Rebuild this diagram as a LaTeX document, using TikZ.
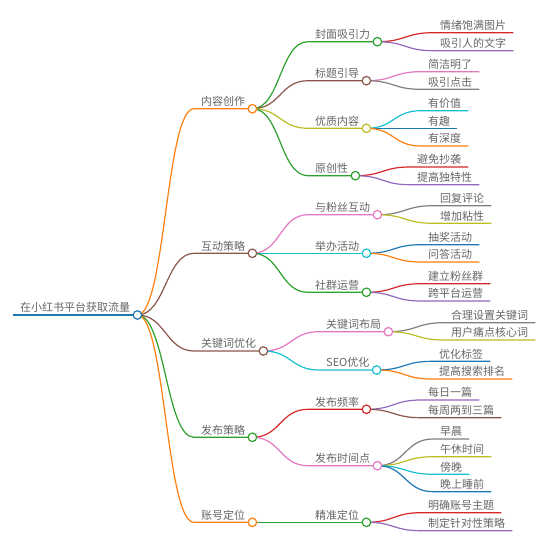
\documentclass[tikz,border=0pt]{standalone}
\usepackage{fontspec}
\newfontfamily\cjk{Noto Sans CJK SC}
\usetikzlibrary{positioning}
\definecolor{cblue}{HTML}{1F77B4}
\definecolor{corange}{HTML}{FF7F0E}
\definecolor{cgreen}{HTML}{2CA02C}
\definecolor{cred}{HTML}{D62728}
\definecolor{cpurple}{HTML}{9467BD}
\definecolor{cbrown}{HTML}{8C564B}
\definecolor{cpink}{HTML}{E377C2}
\definecolor{cgray}{HTML}{7F7F7F}
\definecolor{colive}{HTML}{BCBD22}
\definecolor{ccyan}{HTML}{17BECF}
\definecolor{txt}{HTML}{666666}
\tikzset{
  lbl/.style={anchor=south west, inner xsep=7pt, inner ysep=1.5pt, text height=8.5pt, text depth=1.5pt, font=\cjk\fontsize{11}{13}\selectfont, text=txt},
  dot/.style={circle, draw=#1, fill=white, line width=1.2pt, minimum size=8.5pt, inner sep=0pt},
  br/.style={line width=1.2pt, draw=#1}
}
\begin{document}
\begin{tikzpicture}[x=1pt,y=-1pt]
\useasboundingbox (0,0) rectangle (550,550);
\node[lbl] (root) at (13,315) {在小红书平台获取流量};
\node[lbl] (a) at (194,108.7) {内容创作};
\node[lbl] (b) at (194,253.3) {互动策略};
\node[lbl] (c) at (194,351) {关键词优化};
\node[lbl] (d) at (194,437.3) {发布策略};
\node[lbl] (e) at (194,522.3) {账号定位};
\node[lbl] (a1) at (308,41.7) {封面吸引力};
\node[lbl] (a2) at (308,80.7) {标题引导};
\node[lbl] (a3) at (308,128.3) {优质内容};
\node[lbl] (a4) at (308,175.7) {原创性};
\node[lbl] (b1) at (308,214.7) {与粉丝互动};
\node[lbl] (b2) at (308,253.3) {举办活动};
\node[lbl] (b3) at (308,292.3) {社群运营};
\node[lbl] (c1) at (319,331.7) {关键词布局};
\node[lbl] (c2) at (319,370) {SEO优化};
\node[lbl] (d1) at (308,409.3) {发布频率};
\node[lbl] (d2) at (308,465.7) {发布时间点};
\node[lbl] (e1) at (308,522.3) {精准定位};
\node[lbl] (a11) at (433,32.7) {情绪饱满图片};
\node[lbl] (a12) at (433,50.7) {吸引人的文字};
\node[lbl] (a21) at (421,71.7) {简洁明了};
\node[lbl] (a22) at (421,89.3) {吸引点击};
\node[lbl] (a31) at (421,110.7) {有价值};
\node[lbl] (a32) at (421,128.3) {有趣};
\node[lbl] (a33) at (421,146) {有深度};
\node[lbl] (a41) at (410,167) {避免抄袭};
\node[lbl] (a42) at (410,184.7) {提高独特性};
\node[lbl] (b11) at (433,205.7) {回复评论};
\node[lbl] (b12) at (433,223.3) {增加粘性};
\node[lbl] (b21) at (421,244.7) {抽奖活动};
\node[lbl] (b22) at (421,262) {问答活动};
\node[lbl] (b31) at (421,283.7) {建立粉丝群};
\node[lbl] (b32) at (421,301) {跨平台运营};
\node[lbl] (c11) at (444,322.7) {合理设置关键词};
\node[lbl] (c12) at (444,340) {用户痛点核心词};
\node[lbl] (c21) at (432,361.3) {优化标签};
\node[lbl] (c22) at (432,379) {提高搜索排名};
\node[lbl] (d11) at (421,400) {每日一篇};
\node[lbl] (d12) at (421,417.7) {每周两到三篇};
\node[lbl] (d21) at (433,439) {早晨};
\node[lbl] (d22) at (433,456.7) {午休时间};
\node[lbl] (d23) at (433,474.3) {傍晚};
\node[lbl] (d24) at (433,491.7) {晚上睡前};
\node[lbl] (e11) at (421,512.7) {明确账号主题};
\node[lbl] (e12) at (421,530.7) {制定针对性策略};
\draw[br=cblue] (root.south west) -- (root.south east);
\draw[br=corange] (root.south east) .. controls +(28,0) and +(-28,0) .. (a.south west) -- (a.south east);
\draw[br=cbrown] (root.south east) .. controls +(28,0) and +(-28,0) .. (b.south west) -- (b.south east);
\draw[br=cbrown] (root.south east) .. controls +(28,0) and +(-28,0) .. (c.south west) -- (c.south east);
\draw[br=cgreen] (root.south east) .. controls +(28,0) and +(-28,0) .. (d.south west) -- (d.south east);
\draw[br=corange] (root.south east) .. controls +(28,0) and +(-28,0) .. (e.south west) -- (e.south east);
\draw[br=cgreen] (a.south east) .. controls +(28,0) and +(-28,0) .. (a1.south west) -- (a1.south east);
\draw[br=cbrown] (a.south east) .. controls +(28,0) and +(-28,0) .. (a2.south west) -- (a2.south east);
\draw[br=colive] (a.south east) .. controls +(28,0) and +(-28,0) .. (a3.south west) -- (a3.south east);
\draw[br=cgreen] (a.south east) .. controls +(28,0) and +(-28,0) .. (a4.south west) -- (a4.south east);
\draw[br=cpink] (b.south east) .. controls +(28,0) and +(-28,0) .. (b1.south west) -- (b1.south east);
\draw[br=ccyan] (b.south east) .. controls +(28,0) and +(-28,0) .. (b2.south west) -- (b2.south east);
\draw[br=cgreen] (b.south east) .. controls +(28,0) and +(-28,0) .. (b3.south west) -- (b3.south east);
\draw[br=cpink] (c.south east) .. controls +(28,0) and +(-28,0) .. (c1.south west) -- (c1.south east);
\draw[br=ccyan] (c.south east) .. controls +(28,0) and +(-28,0) .. (c2.south west) -- (c2.south east);
\draw[br=cred] (d.south east) .. controls +(28,0) and +(-28,0) .. (d1.south west) -- (d1.south east);
\draw[br=cpink] (d.south east) .. controls +(28,0) and +(-28,0) .. (d2.south west) -- (d2.south east);
\draw[br=cgreen] (e.south east) .. controls +(28,0) and +(-28,0) .. (e1.south west) -- (e1.south east);
\draw[br=cred] (a1.south east) .. controls +(28,0) and +(-28,0) .. (a11.south west) -- (a11.south east);
\draw[br=cpurple] (a1.south east) .. controls +(28,0) and +(-28,0) .. (a12.south west) -- (a12.south east);
\draw[br=cpink] (a2.south east) .. controls +(28,0) and +(-28,0) .. (a21.south west) -- (a21.south east);
\draw[br=cgray] (a2.south east) .. controls +(28,0) and +(-28,0) .. (a22.south west) -- (a22.south east);
\draw[br=ccyan] (a3.south east) .. controls +(28,0) and +(-28,0) .. (a31.south west) -- (a31.south east);
\draw[br=cblue] (a3.south east) .. controls +(28,0) and +(-28,0) .. (a32.south west) -- (a32.south east);
\draw[br=corange] (a3.south east) .. controls +(28,0) and +(-28,0) .. (a33.south west) -- (a33.south east);
\draw[br=cred] (a4.south east) .. controls +(28,0) and +(-28,0) .. (a41.south west) -- (a41.south east);
\draw[br=cpurple] (a4.south east) .. controls +(28,0) and +(-28,0) .. (a42.south west) -- (a42.south east);
\draw[br=cgray] (b1.south east) .. controls +(28,0) and +(-28,0) .. (b11.south west) -- (b11.south east);
\draw[br=colive] (b1.south east) .. controls +(28,0) and +(-28,0) .. (b12.south west) -- (b12.south east);
\draw[br=cblue] (b2.south east) .. controls +(28,0) and +(-28,0) .. (b21.south west) -- (b21.south east);
\draw[br=corange] (b2.south east) .. controls +(28,0) and +(-28,0) .. (b22.south west) -- (b22.south east);
\draw[br=cred] (b3.south east) .. controls +(28,0) and +(-28,0) .. (b31.south west) -- (b31.south east);
\draw[br=cpurple] (b3.south east) .. controls +(28,0) and +(-28,0) .. (b32.south west) -- (b32.south east);
\draw[br=cgray] (c1.south east) .. controls +(28,0) and +(-28,0) .. (c11.south west) -- (c11.south east);
\draw[br=colive] (c1.south east) .. controls +(28,0) and +(-28,0) .. (c12.south west) -- (c12.south east);
\draw[br=cblue] (c2.south east) .. controls +(28,0) and +(-28,0) .. (c21.south west) -- (c21.south east);
\draw[br=corange] (c2.south east) .. controls +(28,0) and +(-28,0) .. (c22.south west) -- (c22.south east);
\draw[br=cpurple] (d1.south east) .. controls +(28,0) and +(-28,0) .. (d11.south west) -- (d11.south east);
\draw[br=cbrown] (d1.south east) .. controls +(28,0) and +(-28,0) .. (d12.south west) -- (d12.south east);
\draw[br=cgray] (d2.south east) .. controls +(28,0) and +(-28,0) .. (d21.south west) -- (d21.south east);
\draw[br=colive] (d2.south east) .. controls +(28,0) and +(-28,0) .. (d22.south west) -- (d22.south east);
\draw[br=ccyan] (d2.south east) .. controls +(28,0) and +(-28,0) .. (d23.south west) -- (d23.south east);
\draw[br=cblue] (d2.south east) .. controls +(28,0) and +(-28,0) .. (d24.south west) -- (d24.south east);
\draw[br=cred] (e1.south east) .. controls +(28,0) and +(-28,0) .. (e11.south west) -- (e11.south east);
\draw[br=cpurple] (e1.south east) .. controls +(28,0) and +(-28,0) .. (e12.south west) -- (e12.south east);
\node[dot=cblue] (root-dot) at (root.south east) {};
\node[dot=corange] (a-dot) at (a.south east) {};
\node[dot=cbrown] (b-dot) at (b.south east) {};
\node[dot=cbrown] (c-dot) at (c.south east) {};
\node[dot=cgreen] (d-dot) at (d.south east) {};
\node[dot=corange] (e-dot) at (e.south east) {};
\node[dot=cgreen] (a1-dot) at (a1.south east) {};
\node[dot=cbrown] (a2-dot) at (a2.south east) {};
\node[dot=colive] (a3-dot) at (a3.south east) {};
\node[dot=cgreen] (a4-dot) at (a4.south east) {};
\node[dot=cpink] (b1-dot) at (b1.south east) {};
\node[dot=ccyan] (b2-dot) at (b2.south east) {};
\node[dot=cgreen] (b3-dot) at (b3.south east) {};
\node[dot=cpink] (c1-dot) at (c1.south east) {};
\node[dot=ccyan] (c2-dot) at (c2.south east) {};
\node[dot=cred] (d1-dot) at (d1.south east) {};
\node[dot=cpink] (d2-dot) at (d2.south east) {};
\node[dot=cgreen] (e1-dot) at (e1.south east) {};
\end{tikzpicture}
\end{document}
